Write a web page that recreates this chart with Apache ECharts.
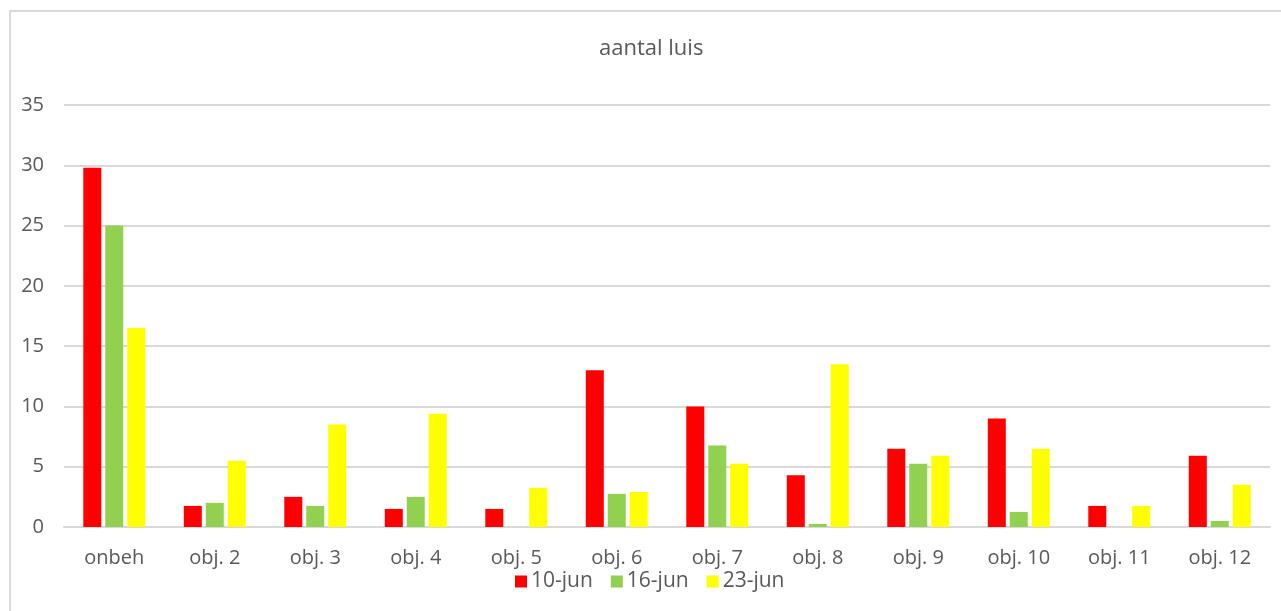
<!DOCTYPE html>
<html>
<head>
<meta charset="utf-8">
<script src="https://cdn.jsdelivr.net/npm/echarts@6/dist/echarts.min.js"></script>
<style>
  html, body { margin: 0; padding: 0; background: #fff; }
  #chart { width: 1281px; height: 611px; }
</style>
</head>
<body>
<div id="chart"></div>
<script>
const categories = ['onbeh', 'obj. 2', 'obj. 3', 'obj. 4', 'obj. 5', 'obj. 6',
  'obj. 7', 'obj. 8', 'obj. 9', 'obj. 10', 'obj. 11', 'obj. 12'];
const jun10 = [29.8, 1.75, 2.5, 1.5, 1.5, 13, 10, 4.3, 6.5, 9, 1.75, 5.9];
const jun16 = [25, 2, 1.75, 2.5, 0, 2.75, 6.75, 0.25, 5.25, 1.25, 0, 0.5];
const jun23 = [16.5, 5.5, 8.5, 9.4, 3.25, 2.9, 5.25, 13.5, 5.9, 6.5, 1.75, 3.5];

const font = '"Open Sans", Lato, sans-serif';
const grey = '#595959';

const chart = echarts.init(document.getElementById('chart'), null, {renderer: 'canvas'});

chart.setOption({
  animation: false,
  textStyle: {fontFamily: font},
  title: {
    text: 'aantal luis',
    left: 599,
    top: 38,
    padding: 0,
    textStyle: {fontSize: 22, fontWeight: 'normal', color: grey, fontFamily: font}
  },
  legend: {
    bottom: 14,
    left: 510,
    itemWidth: 12,
    itemHeight: 12,
    itemGap: 18,
    icon: 'rect',
    textStyle: {fontSize: 21, color: grey, fontFamily: font, padding: [0, 0, 0, -1]},
    data: ['10-jun', '16-jun', '23-jun']
  },
  grid: {left: 64, right: 11, top: 105, bottom: 84},
  xAxis: {
    type: 'category',
    data: categories,
    axisLine: {lineStyle: {color: '#d9d9d9', width: 2}},
    axisTick: {show: false},
    axisLabel: {fontSize: 20, color: grey, margin: 21, fontFamily: font}
  },
  yAxis: {
    type: 'value',
    min: 0,
    max: 35,
    interval: 5,
    axisLine: {show: false},
    axisTick: {show: false},
    axisLabel: {fontSize: 20, color: grey, margin: 20, fontFamily: font},
    splitLine: {lineStyle: {color: '#d9d9d9', width: 2}}
  },
  series: [
    {name: '10-jun', type: 'bar', data: jun10, barWidth: 18, barGap: '22%', itemStyle: {color: '#ff0000'}},
    {name: '16-jun', type: 'bar', data: jun16, barWidth: 18, barGap: '22%', itemStyle: {color: '#92d050'}},
    {name: '23-jun', type: 'bar', data: jun23, barWidth: 18, barGap: '22%', itemStyle: {color: '#ffff00'}}
  ],
  graphic: [
    {type: 'line', shape: {x1: 9, y1: 11, x2: 1281, y2: 11}, style: {stroke: '#d9d9d9', lineWidth: 2}},
    {type: 'line', shape: {x1: 10, y1: 10, x2: 10, y2: 611}, style: {stroke: '#d9d9d9', lineWidth: 2}}
  ]
});
</script>
</body>
</html>
